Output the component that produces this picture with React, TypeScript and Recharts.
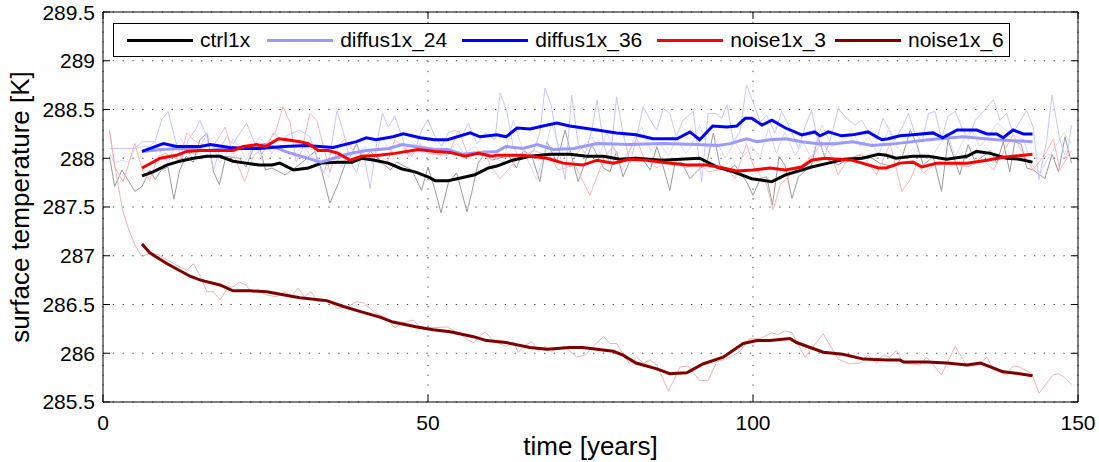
import { LineChart, Line, XAxis, YAxis, CartesianGrid, Label, ReferenceLine } from 'recharts';

const FONT = '"Liberation Sans", Arial, Helvetica, sans-serif';

const seriesNames = ['ctrl1x', 'diffus1x_24', 'diffus1x_36', 'noise1x_3', 'noise1x_6'];
const seriesColors = ['#000000', '#9999ff', '#0000ff', '#ff0000', '#800000'];
const rawColors = ['#9a9a9a', '#d8d8ff', '#c6c6ff', '#ffb4b4', '#eab4b4'];

const xTicks = [0, 50, 100, 150];
const yTicks = [285.5, 286, 286.5, 287, 287.5, 288, 288.5, 289, 289.5];

// yearly values, [year, K]
const ctrl1xRaw: [number, number][] = [
  [1, 288.02], [1.8, 287.71], [2.9, 287.88], [4.9, 287.66], [6, 287.71], [7.2, 287.88], [8, 287.78], [9, 287.88],
  [10, 287.91], [10.9, 287.58], [11.8, 287.88], [12.8, 288.02], [13.9, 287.96], [14.9, 288.19], [16, 288.26], [17, 287.86],
  [17.9, 287.73], [18.9, 288.02], [21, 288.0], [22, 287.91], [23, 288.08], [24, 288.14], [25, 287.88], [26, 287.9],
  [28, 287.83], [29.5, 287.9], [30.5, 287.95], [32.6, 288.07], [33.6, 287.88], [34.9, 287.54], [36.2, 287.74], [37.2, 287.93],
  [38.3, 288.05], [39, 288.15], [40, 287.98], [41.1, 288.07], [43.1, 287.95], [44.2, 287.88], [45.2, 287.96], [47.5, 287.88],
  [49, 287.67], [50, 287.91], [51.1, 287.67], [52, 287.44], [53.1, 287.74], [54.4, 287.85], [56, 287.45], [56.7, 287.64],
  [57.7, 287.95], [58.8, 288.05], [59.8, 287.98], [61, 288.0], [62.4, 288.03], [63.6, 287.9], [64.7, 288.08], [66, 288.02],
  [67.2, 287.76], [68.3, 288.17], [69.8, 287.96], [71.1, 288.29], [72.1, 288.02], [73.1, 287.76], [74.2, 287.96], [75.2, 288.14],
  [77, 287.9], [78, 287.86], [79, 288.07], [80, 287.81], [81.1, 287.98], [83.1, 287.98], [84.2, 287.88], [85.2, 288.12],
  [86.2, 287.91], [87.2, 287.67], [88, 287.95], [89, 287.96], [90.3, 287.79], [91.6, 287.88], [92.9, 287.95], [93.9, 288.26],
  [94.9, 287.93], [96, 287.86], [97.2, 287.93], [99, 287.76], [100, 287.62], [101.1, 287.79], [102.1, 287.81], [103, 287.52],
  [104, 288.02], [104.9, 287.93], [106, 287.59], [107, 287.81], [109, 287.93], [110, 288.22], [111.1, 288.0], [113.1, 287.93],
  [114.2, 287.98], [116.2, 288.03], [118.3, 288.0], [119.5, 287.95], [121.6, 287.91], [122.9, 288.0], [124.2, 288.29], [125.2, 288.14],
  [126.2, 287.93], [127.7, 288.02], [129, 287.66], [130, 288.19], [131.8, 287.83], [133.1, 288.14], [134.2, 287.96], [136.5, 288.08],
  [137.5, 287.95], [138.5, 288.17], [139.5, 287.86], [140.3, 288.17], [141.3, 288.14], [142.1, 287.9], [143.1, 287.88], [144.9, 287.79],
  [146, 288.04], [147, 287.86], [148, 288.22], [149, 287.95],
];

const diffus24Raw: [number, number][] = [
  [1, 288.05], [1.8, 287.95], [2.9, 287.98], [3.9, 287.96], [4.9, 288.1], [6, 288.12], [7, 288.12], [8, 288.17],
  [9, 288.05], [10, 287.95], [11, 288.12], [12, 288.2], [13, 288.08], [14, 287.98], [15, 288.12], [16, 288.26],
  [17, 288.1], [18, 287.95], [19, 288.05], [20, 288.2], [21, 288.12], [22, 287.98], [23, 288.1], [24, 288.22],
  [25, 288.15], [26, 288.05], [27, 288.15], [28, 288.07], [29.5, 288.05], [30.8, 288.12], [32.1, 288.02], [33.4, 287.88],
  [34.7, 287.81], [35.7, 288.02], [36.7, 287.91], [37.7, 288.05], [39, 288.03], [40.3, 288.12], [41.5, 287.93], [42.8, 288.22],
  [44.1, 288.08], [45.4, 288.02], [46.6, 288.1], [47.9, 288.15], [49.2, 288.05], [50.5, 288.12], [51.8, 288.02], [53.1, 288.08],
  [54.4, 288.15], [55.6, 288.05], [57.2, 288.12], [58.7, 288.02], [59.5, 288.02], [61.6, 287.96], [63.1, 288.39], [64.4, 288.12],
  [65.7, 287.93], [66.7, 287.78], [68, 288.08], [69, 288.36], [70, 288.15], [72.6, 288.03], [75.2, 288.22], [76.5, 288.05],
  [77.5, 288.26], [78.8, 288.07], [80, 287.88], [81.6, 288.19], [82.9, 288.32], [84.2, 288.08], [85.7, 288.15], [87, 288.02],
  [88.2, 288.2], [89.7, 288.05], [90.6, 288.14], [91.8, 288.34], [93.1, 288.1], [94.4, 288.17], [95.7, 288.0], [97.2, 288.17],
  [98.5, 288.02], [99.8, 288.12], [101.1, 288.02], [102.4, 288.31], [103.6, 288.05], [104.9, 288.27], [106.5, 288.03], [107.7, 288.17],
  [109, 288.0], [110.6, 288.34], [112.1, 288.12], [113.6, 288.17], [115.2, 288.29], [116.5, 288.12], [117.8, 288.22], [119.3, 288.03],
  [120.8, 288.29], [122.1, 288.12], [123.4, 288.02], [124.7, 288.1], [127.2, 287.98], [128.5, 288.12], [129.8, 288.26], [131.1, 288.02],
  [132.4, 288.19], [133.6, 288.29], [134.9, 288.12], [136.2, 288.22], [137.5, 288.36], [138.8, 288.29], [140, 288.24], [141.6, 288.19],
  [142.9, 287.93], [144.2, 287.85], [145.2, 287.98], [146.5, 288.12], [147.8, 288.26], [149, 288.15],
];

const diffus36Raw: [number, number][] = [
  [1, 288.1], [4.9, 288.1], [6, 288.17], [8, 288.17], [9, 288.39], [10, 288.48], [11.1, 288.19], [12.1, 288.0],
  [13.1, 288.19], [14.2, 288.29], [14.9, 288.39], [16, 288.22], [17, 287.88], [18, 288.1], [19, 288.22], [20, 288.15],
  [22.1, 288.36], [23.1, 288.19], [24.2, 288.02], [25.2, 288.12], [26.2, 288.26], [27.5, 288.19], [28.5, 288.24], [30.3, 288.29],
  [31.8, 288.22], [32.9, 288.02], [33.9, 287.85], [34.9, 288.02], [36, 288.49], [37, 288.26], [38, 287.98], [39, 287.85],
  [40, 288.08], [41.1, 287.69], [42.1, 288.15], [43, 288.46], [43.9, 288.32], [44.9, 288.43], [46, 288.22], [47, 288.02],
  [48, 288.08], [49, 288.29], [50, 288.39], [51.1, 288.22], [52.1, 288.12], [53.1, 288.26], [54.2, 288.29], [55.2, 288.22],
  [56.2, 288.36], [57.5, 288.15], [58.8, 288.26], [60.3, 288.19], [61.1, 288.67], [62.1, 288.49], [63.1, 288.12], [64.2, 287.98],
  [66.2, 288.07], [67.2, 288.26], [68, 288.72], [69, 288.53], [69.8, 288.19], [71.1, 287.78], [72.1, 288.65], [73.1, 288.15],
  [74.2, 288.05], [75.2, 288.29], [76, 288.6], [77, 288.15], [78, 287.93], [79, 288.63], [80, 288.26], [81.1, 287.95],
  [82.1, 288.22], [83.1, 288.53], [84.2, 288.39], [85.2, 288.29], [86.2, 288.51], [87.2, 288.46], [88.2, 288.22], [89.2, 288.39],
  [90.8, 288.48], [92.1, 287.76], [93.1, 288.46], [94.2, 288.46], [95.2, 288.41], [96, 288.55], [97, 288.17], [98, 288.27],
  [99, 288.75], [100, 288.58], [101.1, 288.37], [102.1, 288.44], [103.4, 288.26], [104.4, 288.48], [105.7, 288.31], [107, 288.1],
  [108, 288.32], [109, 288.49], [110, 288.17], [111.1, 288.03], [112.1, 288.24], [113.1, 288.51], [114.4, 288.41], [115.7, 288.34],
  [116.7, 288.39], [117.8, 288.27], [119, 288.19], [120, 288.41], [121.8, 288.19], [122.9, 288.31], [123.9, 288.46], [124.9, 288.26],
  [126, 288.17], [127, 288.46], [128, 288.48], [129, 288.2], [130, 288.43], [131.1, 288.48], [132.1, 288.32], [133.1, 288.19],
  [134.2, 288.39], [135.2, 288.46], [137, 288.6], [138, 288.39], [139, 288.46], [140, 288.26], [142.1, 288.49], [143.1, 288.32],
  [144, 287.78], [145.2, 288.19], [146, 288.65], [147.2, 288.19], [148.2, 287.98], [149, 288.34],
];

const noise3Raw: [number, number][] = [
  [1, 288.29], [1.8, 287.91], [3.1, 287.76], [4.9, 288.15], [6.2, 287.85], [7.2, 287.78], [8.5, 288.02], [9.5, 288.05],
  [10.6, 288.02], [11.8, 287.98], [12.9, 288.26], [13.9, 288.19], [14.9, 288.15], [16, 288.12], [17.2, 288.15], [18.8, 288.32],
  [20, 288.05], [21.8, 287.76], [23.1, 288.02], [24.7, 288.12], [26.5, 288.26], [27.7, 288.53], [28.8, 288.36], [29.7, 287.96],
  [30.6, 288.08], [31.8, 288.46], [32.9, 288.39], [34.9, 287.86], [36.2, 288.12], [37.2, 288.2], [38.5, 288.08], [41.1, 287.98],
  [43.6, 287.93], [44.9, 288.19], [46.2, 288.12], [47.5, 288.02], [48.8, 288.15], [50, 288.05], [53.1, 288.03], [54.7, 288.29],
  [56.2, 288.02], [58.8, 288.08], [59.5, 287.93], [61.1, 287.79], [63.6, 287.98], [66.2, 288.08], [68.8, 288.02], [70, 287.88],
  [72.6, 287.93], [74.9, 287.62], [76, 287.81], [77.2, 288.02], [78.5, 288.12], [79.8, 287.95], [82.1, 288.2], [83.1, 288.02],
  [85.2, 287.9], [87.5, 288.0], [89.5, 287.9], [91.8, 287.95], [93.1, 287.86], [96, 287.9], [97.2, 287.79], [99, 288.15],
  [100, 287.93], [102.1, 287.73], [103.1, 287.47], [104.2, 287.73], [106.2, 287.86], [109.3, 288.03], [110.6, 288.17], [112.1, 288.02],
  [113.1, 287.83], [114.2, 287.95], [116.7, 288.05], [119, 287.83], [121.1, 288.15], [122.9, 287.66], [124.2, 287.78], [125.2, 287.95],
  [126.2, 287.85], [128.5, 287.96], [131.1, 287.95], [132.9, 287.91], [135.4, 287.98], [137, 287.88], [140, 288.24], [141.1, 288.1],
  [143.1, 287.88], [145.2, 288.07], [146.2, 288.2], [147.2, 287.88], [149, 288.08],
];

const noise6Raw: [number, number][] = [
  [1, 288.28], [2, 287.85], [3, 287.47], [4, 287.26], [5, 287.1], [6, 286.99], [7.2, 287.03], [8.5, 287.01],
  [9.8, 286.96], [12.9, 286.85], [13.9, 286.92], [14.9, 286.8], [16, 286.63], [17, 286.63], [18, 286.55], [19.3, 286.68],
  [20, 286.68], [21, 286.73], [22, 286.7], [22.8, 286.63], [24, 286.65], [25, 286.6], [26.7, 286.58], [28, 286.63],
  [29, 286.58], [30, 286.67], [31, 286.58], [32, 286.63], [33, 286.53], [35, 286.53], [36, 286.46], [37.5, 286.47],
  [39, 286.53], [40, 286.52], [42, 286.41], [43.4, 286.37], [44.9, 286.26], [46, 286.31], [47.7, 286.34], [48.8, 286.27],
  [50.3, 286.26], [52.9, 286.27], [54.4, 286.22], [56, 286.14], [57, 286.11], [58.8, 286.22], [60, 286.13], [62, 286.07],
  [63.1, 286.12], [63.9, 286.01], [64.9, 286.08], [66, 286.12], [67, 286.02], [68, 286.07], [69, 286.02], [71, 286.07],
  [72.9, 285.96], [74.2, 285.98], [75.4, 286.07], [77, 286.17], [78, 286.1], [79, 286.1], [81, 285.89], [82.1, 285.96],
  [83.1, 285.9], [84.2, 285.93], [85.2, 285.88], [87, 285.61], [88.8, 285.86], [90, 285.87], [91.8, 285.72], [93.1, 285.72],
  [94.4, 285.91], [96.5, 285.96], [98, 286.02], [99.5, 286.15], [101.1, 286.15], [102.9, 286.21], [103.9, 286.19], [104.9, 286.23],
  [106, 286.21], [108, 285.96], [110.8, 286.2], [113.1, 285.94], [114.9, 285.89], [116.5, 285.9], [117.7, 285.98], [119, 285.9],
  [120, 285.98], [121, 285.96], [122.1, 286.03], [123.1, 285.9], [125.7, 285.88], [126.7, 285.96], [129, 285.78], [131.1, 286.07],
  [132.9, 285.87], [134.4, 285.87], [136, 285.96], [137, 285.83], [139, 285.78], [140, 285.87], [141, 285.86], [142.9, 285.79],
  [144, 285.59], [146.2, 285.78], [147, 285.79], [148, 285.75], [149, 285.68],
];

// running means
const ctrl1xMean: [number, number][] = [
  [6, 287.82], [7.7, 287.86], [9.8, 287.93], [11.8, 287.97], [13.9, 288.0], [16, 288.02], [18, 288.02], [20, 287.97],
  [22, 287.95], [24, 287.93], [26, 287.93], [27.2, 287.95], [29.3, 287.88], [31.6, 287.9], [33.6, 287.95], [36.2, 287.96],
  [38.3, 287.96], [39.8, 288.0], [41.8, 287.98], [43.9, 287.95], [46, 287.89], [48, 287.86], [50, 287.81], [51.1, 287.77],
  [53.1, 287.77], [55.2, 287.8], [57.2, 287.83], [59.3, 287.9], [60.6, 287.92], [63, 287.98], [65.7, 288.02], [68.8, 288.04],
  [71.8, 288.04], [74.4, 288.02], [77, 288.02], [79.5, 287.99], [82, 288.0], [86, 287.98], [88.8, 287.99], [91.8, 288.0],
  [94.5, 287.91], [97, 287.86], [99.8, 287.79], [102.9, 287.76], [105, 287.83], [107.5, 287.88], [109, 287.91], [111.6, 287.95],
  [114, 287.99], [116.8, 288.0], [119.3, 288.04], [120.5, 288.03], [122, 288.0], [124.6, 288.02], [127, 288.02], [129.8, 287.99],
  [132.9, 288.02], [134.4, 288.07], [136.5, 288.05], [139, 288.0], [141, 287.99], [143, 287.96],
];

const diffus24Mean: [number, number][] = [
  [6, 288.07], [9, 288.09], [12, 288.1], [16, 288.08], [19, 288.1], [21, 288.11], [25, 288.14], [27, 288.1],
  [28, 288.07], [30, 288.03], [33.5, 287.96], [36.5, 288.02], [38, 288.05], [40.5, 288.08], [44, 288.1], [46, 288.14],
  [48, 288.12], [51, 288.09], [53, 288.09], [55.4, 288.04], [58, 288.06], [60.6, 288.07], [62, 288.12], [64.6, 288.1],
  [66.8, 288.14], [69.3, 288.09], [72.4, 288.1], [76, 288.15], [81, 288.14], [86, 288.15], [91.3, 288.14], [94.6, 288.13],
  [96.5, 288.15], [99, 288.2], [100.6, 288.17], [102.6, 288.19], [105, 288.2], [107.5, 288.17], [110, 288.15], [112.6, 288.15],
  [115.3, 288.17], [118.3, 288.13], [120.3, 288.14], [122, 288.15], [127, 288.19], [132.3, 288.22], [137.5, 288.19], [143, 288.17],
];

const diffus36Mean: [number, number][] = [
  [6, 288.07], [9.3, 288.15], [11.3, 288.12], [15, 288.12], [16.5, 288.14], [19.5, 288.11], [21.5, 288.1], [24, 288.1],
  [27.8, 288.12], [31.3, 288.13], [35.4, 288.11], [39, 288.17], [40.5, 288.21], [42, 288.19], [44.6, 288.22], [46.2, 288.25],
  [48.8, 288.21], [51, 288.19], [53, 288.19], [56.5, 288.26], [58, 288.22], [60.6, 288.24], [62, 288.22], [63.7, 288.31],
  [65.7, 288.3], [67.7, 288.33], [69.8, 288.36], [71.8, 288.33], [76, 288.29], [79, 288.26], [82, 288.24], [84.6, 288.2],
  [88.3, 288.2], [90.3, 288.27], [91.8, 288.19], [93.8, 288.33], [96, 288.32], [97.5, 288.33], [98.8, 288.41], [99.8, 288.41],
  [101.4, 288.34], [102.9, 288.39], [105, 288.31], [107.5, 288.24], [109.5, 288.27], [110.3, 288.23], [111.6, 288.27], [113.6, 288.23],
  [115.3, 288.24], [117.7, 288.27], [119.8, 288.19], [120.8, 288.2], [122.6, 288.23], [124.6, 288.24], [127.7, 288.26], [129.2, 288.21],
  [131.4, 288.29], [134.4, 288.29], [136, 288.25], [137.5, 288.25], [138.5, 288.21], [140, 288.29], [141.6, 288.25], [143, 288.25],
];

const noise3Mean: [number, number][] = [
  [6, 287.9], [8.8, 288.0], [11.3, 288.03], [12.9, 288.07], [15, 288.08], [20, 288.08], [21.6, 288.12], [23.6, 288.14],
  [25, 288.12], [27, 288.2], [28.3, 288.19], [30.3, 288.17], [31.6, 288.15], [33.1, 288.08], [34.7, 288.08], [36.2, 288.05],
  [38, 287.98], [39.8, 288.02], [42.4, 288.03], [44.9, 288.05], [48.5, 288.09], [51.1, 288.07], [53.4, 288.06], [55.7, 288.02],
  [57.7, 288.05], [59.8, 288.02], [60.6, 288.03], [64.6, 288.03], [68.3, 288.0], [70.8, 287.95], [73.8, 287.93], [76, 287.98],
  [78.5, 287.95], [81, 287.99], [83.7, 287.98], [86, 287.96], [89.8, 287.93], [92.9, 287.93], [95.4, 287.9], [97.5, 287.87],
  [100, 287.88], [102.6, 287.9], [105, 287.88], [107.5, 287.91], [109, 287.98], [111, 288.0], [115.3, 287.98], [116.8, 287.95],
  [119.3, 287.9], [120.5, 287.9], [122.6, 287.95], [124.6, 287.96], [126, 287.91], [128.3, 287.95], [132.9, 287.95], [136, 287.98],
  [138.5, 288.01], [140, 288.02], [143, 288.04],
];

const noise6Mean: [number, number][] = [
  [6, 287.12], [7.2, 287.03], [9.8, 286.92], [13.4, 286.79], [15, 286.75], [18, 286.7], [20, 286.64], [22.6, 286.64],
  [25.2, 286.63], [27.7, 286.6], [30.3, 286.57], [34.4, 286.54], [37, 286.48], [39.5, 286.43], [42.6, 286.37], [44.6, 286.32],
  [48.3, 286.27], [50.8, 286.24], [53.4, 286.22], [57, 286.17], [59, 286.13], [62, 286.11], [65.7, 286.06], [68.3, 286.04],
  [71.8, 286.06], [73.8, 286.06], [76, 286.04], [78.5, 286.02], [80, 285.98], [82, 285.9], [85.2, 285.84], [87.2, 285.79],
  [89.8, 285.8], [92.3, 285.89], [95.4, 285.96], [98.5, 286.1], [100.6, 286.13], [102.6, 286.13], [105.7, 286.15], [106.7, 286.11],
  [110.8, 286.01], [113.8, 285.99], [117, 285.94], [120.6, 285.93], [122.6, 285.93], [123.2, 285.91], [126.8, 285.91], [129.8, 285.9],
  [132.9, 285.88], [135, 285.9], [138.5, 285.81], [141, 285.79], [143, 285.77],
];

const rawSeries = [ctrl1xRaw, diffus24Raw, diffus36Raw, noise3Raw, noise6Raw];
const meanSeries = [ctrl1xMean, diffus24Mean, diffus36Mean, noise3Mean, noise6Mean];

const toPoints = (pts: [number, number][]) => pts.map(([x, y]) => ({ x, y }));

const X_MIN = 0;
const X_MAX = 150;
const Y_MIN = 285.5;
const Y_MAX = 289.5;
// inward tick length on the top / right edges, in axis units (about 7px)
const TOP_TICK = 0.072;
const RIGHT_TICK = 1.1;

const tickStyle = { fontSize: 21, fill: '#000', fontFamily: FONT };
const labelStyle = { fontSize: 26, fill: '#000', fontFamily: FONT };

// gap after each legend entry
const legendGaps = [17, 15, 15, 9, 0];

const ChartLegend = () => (
  <div
    style={{
      position: 'absolute',
      left: 113,
      top: 23,
      width: 897,
      height: 34,
      boxSizing: 'border-box',
      border: '1px solid #000',
      background: '#fff',
      display: 'flex',
      alignItems: 'center',
      paddingLeft: 13,
      fontFamily: FONT,
      fontSize: 21,
      color: '#000',
      whiteSpace: 'nowrap',
    }}
  >
    {seriesNames.map((name, i) => (
      <div key={name} style={{ display: 'flex', alignItems: 'center', marginRight: legendGaps[i] }}>
        <div style={{ width: 66, height: 3, background: seriesColors[i], marginRight: 7 }} />
        <span>{name}</span>
      </div>
    ))}
  </div>
);

const App = () => {
  return (
    <div style={{ position: 'absolute', left: 0, top: 0, width: 1099, height: 462, background: '#fff' }}>
      <LineChart width={1099} height={462} margin={{ top: 12, right: 21, bottom: 0, left: 0 }}>
        <CartesianGrid stroke="#444" strokeDasharray="1.3 8.5" />
        <XAxis
          type="number"
          dataKey="x"
          domain={[X_MIN, X_MAX]}
          ticks={xTicks}
          height={60}
          tickSize={-7}
          tickMargin={20}
          stroke="#000"
          tick={tickStyle}
        >
          <Label value="time [years]" position="insideBottom" offset={7} style={labelStyle} />
        </XAxis>
        <YAxis
          type="number"
          domain={[Y_MIN, Y_MAX]}
          ticks={yTicks}
          width={103}
          tickSize={-7}
          tickMargin={15}
          stroke="#000"
          tick={tickStyle}
          allowDataOverflow
        >
          <Label
            value="surface temperature [K]"
            angle={-90}
            position="insideLeft"
            offset={20}
            style={{ ...labelStyle, textAnchor: 'middle' }}
          />
        </YAxis>
        {rawSeries.map((s, i) => (
          <Line
            key={`raw-${seriesNames[i]}`}
            data={toPoints(s)}
            dataKey="y"
            type="linear"
            stroke={rawColors[i]}
            strokeWidth={1}
            dot={false}
            legendType="none"
            isAnimationActive={false}
          />
        ))}
        {meanSeries.map((s, i) => (
          <Line
            key={`mean-${seriesNames[i]}`}
            data={toPoints(s)}
            dataKey="y"
            name={seriesNames[i]}
            type="linear"
            stroke={seriesColors[i]}
            strokeWidth={3}
            dot={false}
            isAnimationActive={false}
          />
        ))}
        <ReferenceLine y={Y_MAX} stroke="#000" strokeWidth={1} />
        <ReferenceLine x={X_MAX} stroke="#000" strokeWidth={1} />
        {xTicks.map((t) => (
          <ReferenceLine
            key={`tt-${t}`}
            segment={[{ x: t, y: Y_MAX }, { x: t, y: Y_MAX - TOP_TICK }]}
            stroke="#000"
          />
        ))}
        {yTicks.map((t) => (
          <ReferenceLine
            key={`rt-${t}`}
            segment={[{ x: X_MAX, y: t }, { x: X_MAX - RIGHT_TICK, y: t }]}
            stroke="#000"
          />
        ))}
      </LineChart>
      <ChartLegend />
    </div>
  );
};

export default App;
